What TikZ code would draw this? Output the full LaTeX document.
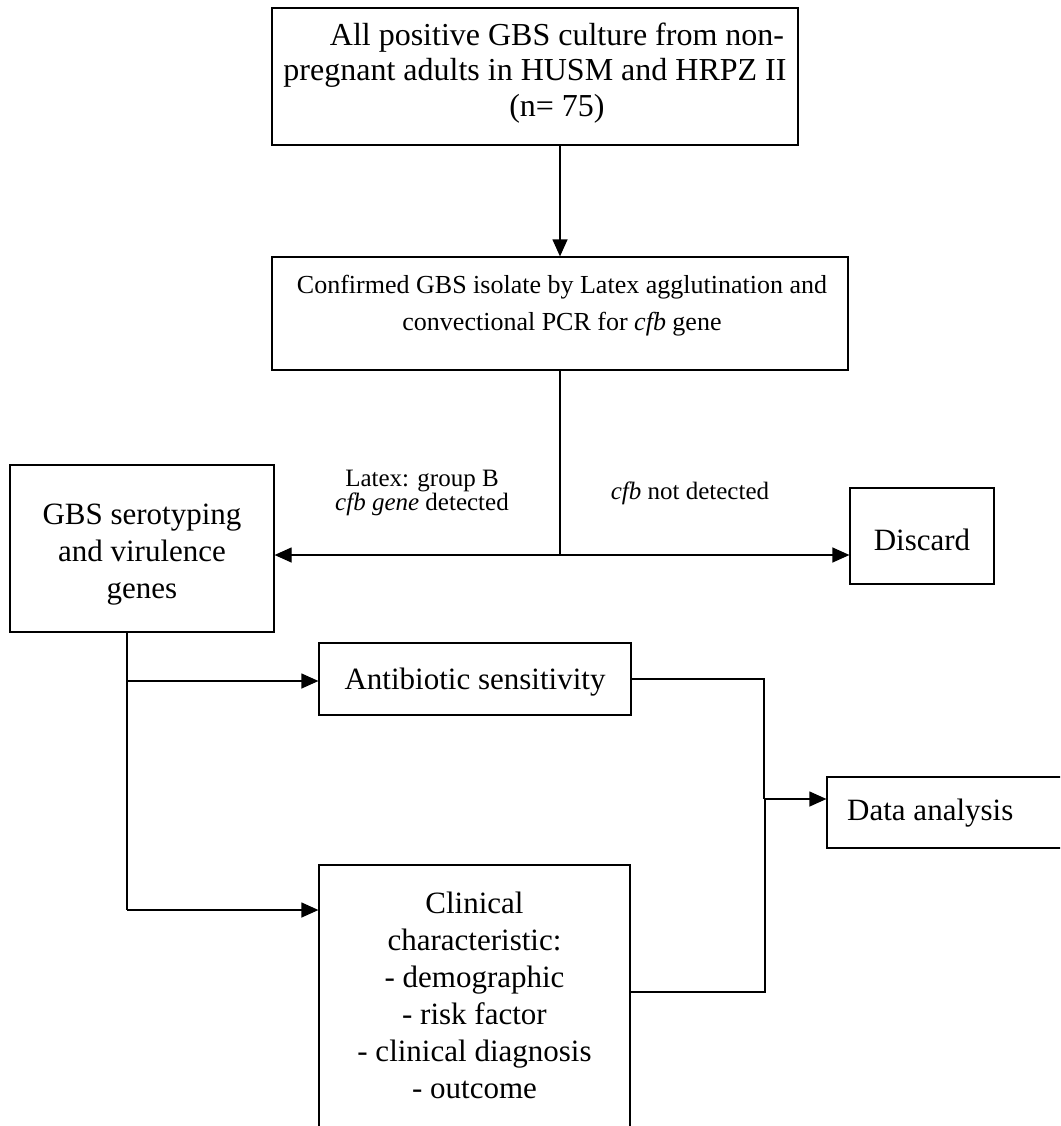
\documentclass[tikz,border=0pt]{standalone}
\usepackage{fontspec}
\setmainfont{Liberation Serif}
\usetikzlibrary{arrows.meta,calc}
\begin{document}
\begin{tikzpicture}[x=1pt,y=1pt,
  box/.style={draw=black,line width=1.2pt,rectangle,inner sep=0pt},
  txt/.style={align=center,inner sep=0pt,font=\fontsize{31}{37}\selectfont},
  lbl/.style={align=center,inner sep=0pt,font=\fontsize{25}{22}\selectfont},
  conn/.style={draw=black,line width=1.2pt},
  arr/.style={conn,-{Triangle[length=17pt,width=15pt]}}]
\useasboundingbox (0,0) rectangle (1060,-1126);
\begin{scope}
\clip (0,0) rectangle (1060,-1126);
% boxes
\node[box,minimum width=526pt,minimum height=137pt] (b1) at (535,-76.5) {};
\node[txt,font=\fontsize{32}{35.5}\selectfont] at (535,-73) {\hspace*{44pt}All positive GBS culture from non-\\pregnant adults in HUSM and HRPZ II\\\hspace*{44pt}(n= 75)};
\node[box,minimum width=576pt,minimum height=113pt] (b2) at (560,-313.5) {};
\node[txt,font=\fontsize{26}{37}\selectfont] at (562,-306) {Confirmed GBS isolate by Latex agglutination and\\convectional PCR for \textit{cfb} gene};
\node[box,minimum width=264pt,minimum height=167pt] (gbs) at (142,-548.5) {};
\node[txt] at (142,-555) {GBS serotyping\\and virulence\\genes};
\node[box,minimum width=144pt,minimum height=96pt] (disc) at (922,-536) {};
\node[txt] at (922,-540) {Discard};
\node[box,minimum width=312pt,minimum height=72pt] (anti) at (475,-679) {};
\node[txt] at (475,-682) {Antibiotic sensitivity};
\node[box,minimum width=311pt,minimum height=285pt] (clin) at (474.5,-1007.5) {};
\node[txt] at (474.5,-995) {Clinical\\characteristic:\\- demographic\\- risk factor\\- clinical diagnosis\\- outcome};
\node[box,minimum width=250pt,minimum height=71pt] (data) at (952,-812.5) {};
\node[txt,anchor=west] at (847,-813) {Data analysis};
% labels
\node[lbl] (l1) at (422,-493) {Latex: group B\\\textit{cfb gene} detected};
\node[lbl] (l2) at (690,-493) {\textit{cfb} not detected};
% connectors
\draw[arr] (b2.north |- b1.south) -- (b2.north);
\coordinate (j1) at (560,-555);
\draw[conn] (b2.south) -- (j1);
\draw[arr] (j1) -- (j1 -| gbs.east);
\draw[arr] (j1) -- (j1 -| disc.west);
\coordinate (gx) at (127,-632);
\coordinate (ga) at (127,-681);
\coordinate (gc) at (127,-910);
\draw[conn] (gx |- gbs.south) -- (gc);
\draw[arr] (ga) -- (ga -| anti.west);
\draw[arr] (gc) -- (gc -| clin.west);
\coordinate (j2) at (764,-799);
\coordinate (c2) at (765,-992);
\draw[conn] (anti.east) -| (j2);
\draw[conn] (c2 -| clin.east) -- (c2) -- (c2 |- j2);
\draw[arr] (j2) -- (j2 -| data.west);
\end{scope}
\end{tikzpicture}
\end{document}
